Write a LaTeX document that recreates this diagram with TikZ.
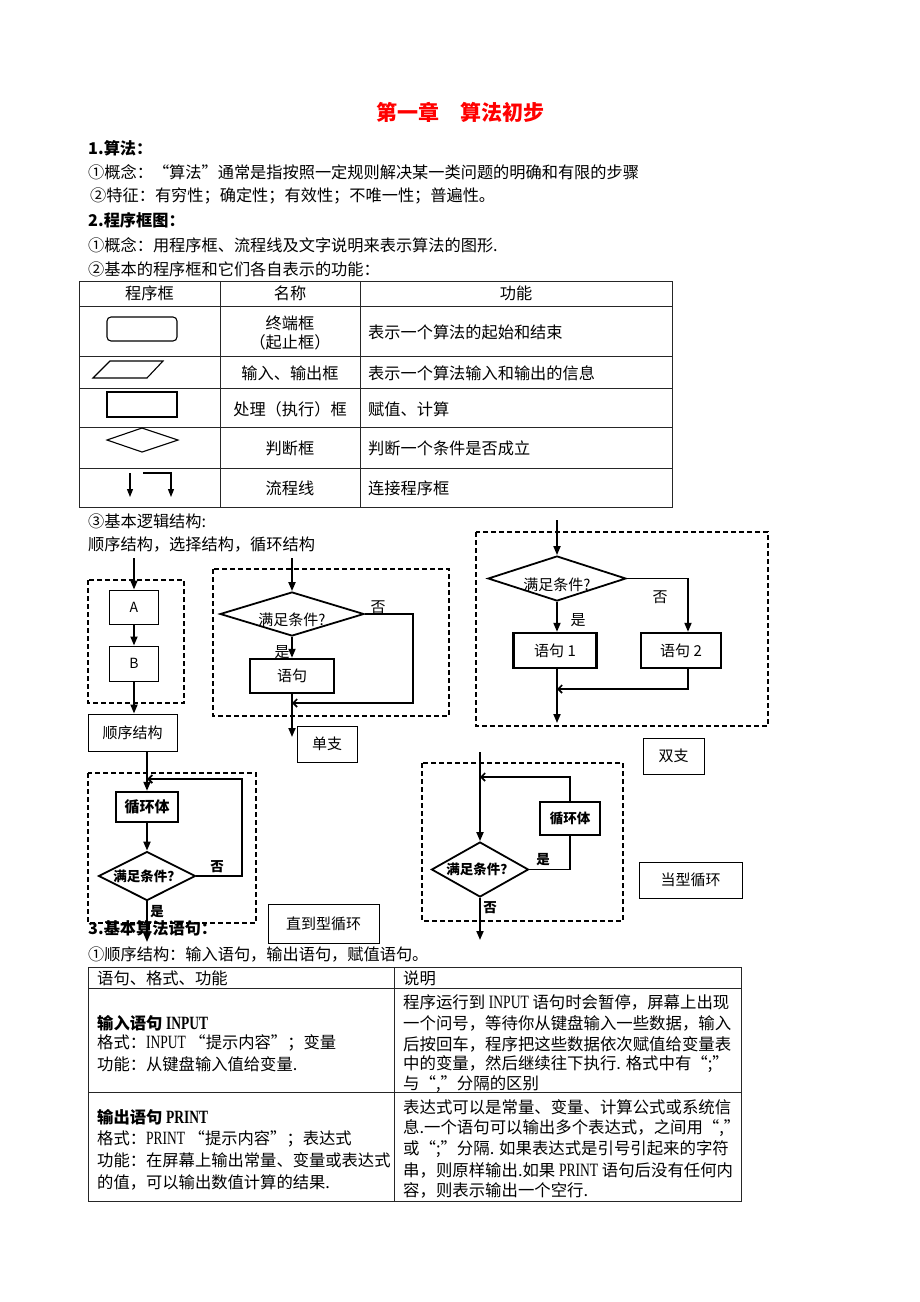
\documentclass[tikz,border=0pt]{standalone}
\usepackage{fontspec}
\setmainfont{Noto Sans CJK SC}
\newfontfamily\latinfont[Scale=1.15,FakeStretch=0.72]{Liberation Serif}
\usetikzlibrary{arrows.meta,shapes.geometric}

\newcommand\titlesize{\fontsize{21}{25}\selectfont}
\newcommand\bodysize{\fontsize{16.2}{20}\selectfont}
\newcommand\cellsize{\fontsize{16.3}{20}\selectfont}
\newcommand\notesize{\fontsize{16.4}{20}\selectfont}
\newcommand\chartsize{\fontsize{15}{18}\selectfont}
\newcommand\markbold{\fontsize{13.5}{16}\selectfont\bfseries}

\tikzset{
  txt/.style={anchor=west, inner sep=0pt, font=\bodysize},
  ctxt/.style={inner sep=0pt, font=\bodysize},
  grid/.style={line width=1pt, draw=black!85},
  dashbox/.style={line width=1.3pt, dash pattern=on 5pt off 3pt},
  flow/.style={line width=1.8pt, -{Triangle[length=9pt,width=7pt]}},
  link/.style={line width=1.8pt},
  back/.style={line width=1.6pt, -{Straight Barb[length=4pt,width=8pt]}},
  thinbox/.style={draw, line width=1pt, inner sep=0pt, font=\chartsize},
  boldbox/.style={draw, line width=2.4pt, inner sep=0pt, font=\chartsize},
  cond/.style={draw, diamond, line width=1.8pt, inner sep=0pt},
  sym/.style={line width=1.1pt},
  tag/.style={inner sep=0pt, font=\chartsize},
}

\begin{document}
\begin{tikzpicture}[x=1pt,y=-1pt]
			%%%%% START %%%%%
			\fill[white] (0,0) rectangle (920,1302);
			\useasboundingbox (0,0) rectangle (920,1302);
			
			\node[inner sep=0pt, font=\titlesize\bfseries, text=red] (title) at (460,112) {第一章　算法初步};
			
			\node[txt, font=\bodysize\bfseries] (h1) at (88,148) {1.算法：};
			\node[txt] (l1) at (88,172) {①概念：“算法”通常是指按照一定规则解决某一类问题的明确和有限的步骤};
			\node[txt] (l2) at (90,196) {②特征：有穷性；确定性；有效性；不唯一性；普遍性。};
			\node[txt, font=\bodysize\bfseries] (h2) at (88,220) {2.程序框图：};
			\node[txt] (l3) at (88,245) {①概念：用程序框、流程线及文字说明来表示算法的图形.};
			\node[txt] (l4) at (88,269) {②基本的程序框和它们各自表示的功能：};
			
			%%%%% table of boxes %%%%%
			\draw[grid] (79,281) rectangle (672,507);
			\foreach \y in {306,356,388,427,468} \draw[grid] (79,\y) -- (672,\y);
			\foreach \x in {220,360} \draw[grid] (\x,281) -- (\x,507);
			
			\node[ctxt] (th1) at (149.5,293) {程序框};
			\node[ctxt] (th2) at (290,293) {名称};
			\node[ctxt] (th3) at (516,293) {功能};
			
			\draw[sym, rounded corners=4pt] (107,317) rectangle (177,341);
			\node[ctxt] (n1a) at (290,323) {终端框};
			\node[ctxt] (n1b) at (290,342) {（起止框）};
			\node[txt] (f1) at (368,332) {表示一个算法的起始和结束};
			
			\draw[sym] (110,361) -- (163,361) -- (147,378) -- (93,378) -- cycle;
			\node[ctxt] (n2) at (290,373) {输入、输出框};
			\node[txt] (f2) at (368,373) {表示一个算法输入和输出的信息};
			
			\draw[sym] (107,392) rectangle (177,417);
			\node[ctxt] (n3) at (290,409) {处理（执行）框};
			\node[txt] (f3) at (368,409) {赋值、计算};
			
			\draw[sym] (107,440) -- (142,428) -- (178,440) -- (142,452) -- cycle;
			\node[ctxt] (n4) at (290,448) {判断框};
			\node[txt] (f4) at (368,448) {判断一个条件是否成立};
			
			\draw[sym, -{Triangle[length=8pt,width=6pt]}] (130,473) -- (130,497);
			\draw[sym, -{Triangle[length=8pt,width=6pt]}] (143,473) -| (171,497);
			\node[ctxt] (n5) at (290,488) {流程线};
			\node[txt] (f5) at (368,488) {连接程序框};
			
			\node[txt] (l5) at (88,521) {③基本逻辑结构:};
			\node[txt] (l6) at (88,545) {顺序结构，选择结构，循环结构};
			
			%%%%% sequence %%%%%
			\draw[dashbox] (88,580) rectangle (184,703);
			\coordinate (seqin) at (134,558);
			\node[thinbox, minimum width=49pt, minimum height=34pt, font=\fontsize{14}{16}\selectfont] (A) at (134,607) {A};
			\node[thinbox, minimum width=49pt, minimum height=35pt, font=\fontsize{14}{16}\selectfont] (B) at (134,663.5) {B};
			\node[thinbox, minimum width=89pt, minimum height=37pt] (seq) at (132.5,732.5) {顺序结构};
			\draw[flow] (seqin) -- (A);
			\draw[flow] (A) -- (B);
			\draw[flow] (B.south) -- (B.south |- seq.north);
			
			%%%%% single branch %%%%%
			\draw[dashbox] (213,569) rectangle (449,716);
			\coordinate (in1) at (292,558);
			\node[cond, minimum width=144pt, minimum height=44pt, label={[font=\chartsize, yshift=-6pt]center:满足条件?}] (c1) at (292,614) {};
			\node[boldbox, minimum width=84pt, minimum height=34pt] (st) at (292,676) {语句};
			\node[thinbox, minimum width=60pt, minimum height=36pt] (single) at (327,744) {单支};
			\coordinate (r1) at (413,703);
			\coordinate (out1) at (292,737);
			\draw[flow] (in1) -- (c1);
			\draw[flow] (c1) -- (st);
			\draw[back] (c1.east) -| (r1) -- (r1 -| st.south);
			\draw[flow] (st) -- (out1);
			\node[tag] (yes1) at (282,652) {是};
			\node[tag] (no1) at (378,607) {否};
			
			%%%%% double branch %%%%%
			\draw[dashbox] (476,532) rectangle (768,726);
			\coordinate (in2) at (557,520);
			\node[cond, minimum width=138pt, minimum height=45pt, label={[font=\chartsize, yshift=-6pt]center:满足条件?}] (c2) at (557,578.5) {};
			\node[boldbox, minimum width=83pt, minimum height=35pt] (s1) at (555,650.5) {语句 1};
			\node[boldbox, minimum width=80pt, minimum height=35pt] (s2) at (681,650.5) {语句 2};
			\node[thinbox, minimum width=61pt, minimum height=36pt] (double) at (673.5,756) {双支};
			\coordinate (m2) at (557,689);
			\coordinate (out2) at (557,723);
			\draw[flow] (in2) -- (c2);
			\draw[flow] (c2.south) -- (c2.south |- s1.north);
			\draw[flow] (c2.east) -| ([xshift=7pt]s2.north);
			\draw[back] ([xshift=7pt]s2.south) |- (m2);
			\draw[flow] (c2.south |- s1.south) -- (out2);
			\node[tag] (yes2) at (578,620) {是};
			\node[tag] (no2) at (660,597) {否};
			
			%%%%% until loop %%%%%
			\draw[dashbox] (88,773) rectangle (256,923);
			\node[boldbox, minimum width=62pt, minimum height=30pt, font=\fontsize{15}{18}\selectfont\bfseries] (body1) at (147,807) {循环体};
			\node[cond, minimum width=97pt, minimum height=49pt, label={[font=\markbold]center:满足条件？}] (c3) at (147,876) {};
			\node[thinbox, minimum width=111pt, minimum height=39pt] (until) at (323.5,923.5) {直到型循环};
			\coordinate (r3) at (242,779);
			\coordinate (out3) at (147,942);
			\draw[flow] (body1.north |- seq.south) -- (body1);
			\draw[flow] (body1) -- (c3);
			\draw[back, line width=1.8pt] (c3.east) -| (r3) -- (r3 -| body1.north);
			\draw[flow] (c3) -- (out3);
			\node[tag, font=\markbold] (no3) at (217,867) {否};
			\node[tag, font=\markbold] (yes3) at (157,912) {是};
			
			%%%%% while loop %%%%%
			\draw[dashbox] (422,763) rectangle (623,921);
			\coordinate (in4) at (480,752);
			\node[cond, minimum width=97pt, minimum height=55pt, label={[font=\markbold]center:满足条件？}] (c4) at (480,869.5) {};
			\node[boldbox, line width=1.8pt, minimum width=60pt, minimum height=33pt, font=\markbold] (body2) at (570,818.5) {循环体};
			\node[thinbox, minimum width=103pt, minimum height=36pt] (whileloop) at (690.5,880) {当型循环};
			\coordinate (t4) at (570,777);
			\coordinate (out4) at (480,940);
			\draw[flow] (in4) -- (c4);
			\draw[link] (c4.east) -| (body2.south);
			\draw[back] (body2.north) -- (t4) -- (t4 -| c4.north);
			\draw[flow] (c4) -- (out4);
			\node[tag, font=\markbold] (yes4) at (543,860) {是};
			\node[tag, font=\markbold] (no4) at (490,908) {否};
			
			\node[txt, font=\bodysize\bfseries] (h3) at (88,928) {3.基本算法语句：};
			\node[txt] (l7) at (88,955) {①顺序结构：输入语句，输出语句，赋值语句。};
			
			%%%%% table of statements %%%%%
			\draw[grid] (88,967) rectangle (741,1201);
			\draw[grid] (88,988) -- (741,988);
			\draw[grid] (88,1092) -- (741,1092);
			\draw[grid] (394,967) -- (394,1201);
			
			\node[txt, font=\cellsize] (sh1) at (97,978) {语句、格式、功能};
			\node[txt, font=\cellsize] (sh2) at (403,978) {说明};
			
			\node[txt, font=\cellsize\bfseries] (in1a) at (97,1023) {输入语句 {\latinfont INPUT}};
			\node[txt, font=\cellsize] (in1b) at (97,1043) {格式：{\latinfont INPUT} “提示内容”；变量};
			\node[txt, font=\cellsize] (in1c) at (97,1064) {功能：从键盘输入值给变量.};
			
			\node[txt, font=\notesize] (d1a) at (403,1002) {程序运行到 {\latinfont INPUT} 语句时会暂停，屏幕上出现};
			\node[txt, font=\notesize] (d1b) at (403,1023) {一个问号，等待你从键盘输入一些数据，输入};
			\node[txt, font=\notesize] (d1c) at (403,1044) {后按回车，程序把这些数据依次赋值给变量表};
			\node[txt, font=\notesize] (d1d) at (403,1064) {中的变量，然后继续往下执行. 格式中有“;”};
			\node[txt, font=\notesize] (d1e) at (403,1084) {与“,”分隔的区别};
			
			\node[txt, font=\cellsize\bfseries] (out1a) at (97,1117) {输出语句 {\latinfont PRINT}};
			\node[txt, font=\cellsize] (out1b) at (97,1139) {格式：{\latinfont PRINT} “提示内容”；表达式};
			\node[txt, font=\cellsize] (out1c) at (97,1160) {功能：在屏幕上输出常量、变量或表达式};
			\node[txt, font=\cellsize] (out1d) at (97,1182) {的值，可以输出数值计算的结果.};
			
			\node[txt, font=\notesize] (d2a) at (403,1107) {表达式可以是常量、变量、计算公式或系统信};
			\node[txt, font=\notesize] (d2b) at (403,1128) {息.一个语句可以输出多个表达式，之间用“,”};
			\node[txt, font=\notesize] (d2c) at (403,1149) {或“;”分隔. 如果表达式是引号引起来的字符};
			\node[txt, font=\notesize] (d2d) at (403,1170) {串，则原样输出.如果 {\latinfont PRINT} 语句后没有任何内};
			\node[txt, font=\notesize] (d2e) at (403,1190) {容，则表示输出一个空行.};
			
			%%%%% END %%%%%
\end{tikzpicture}
\end{document}
